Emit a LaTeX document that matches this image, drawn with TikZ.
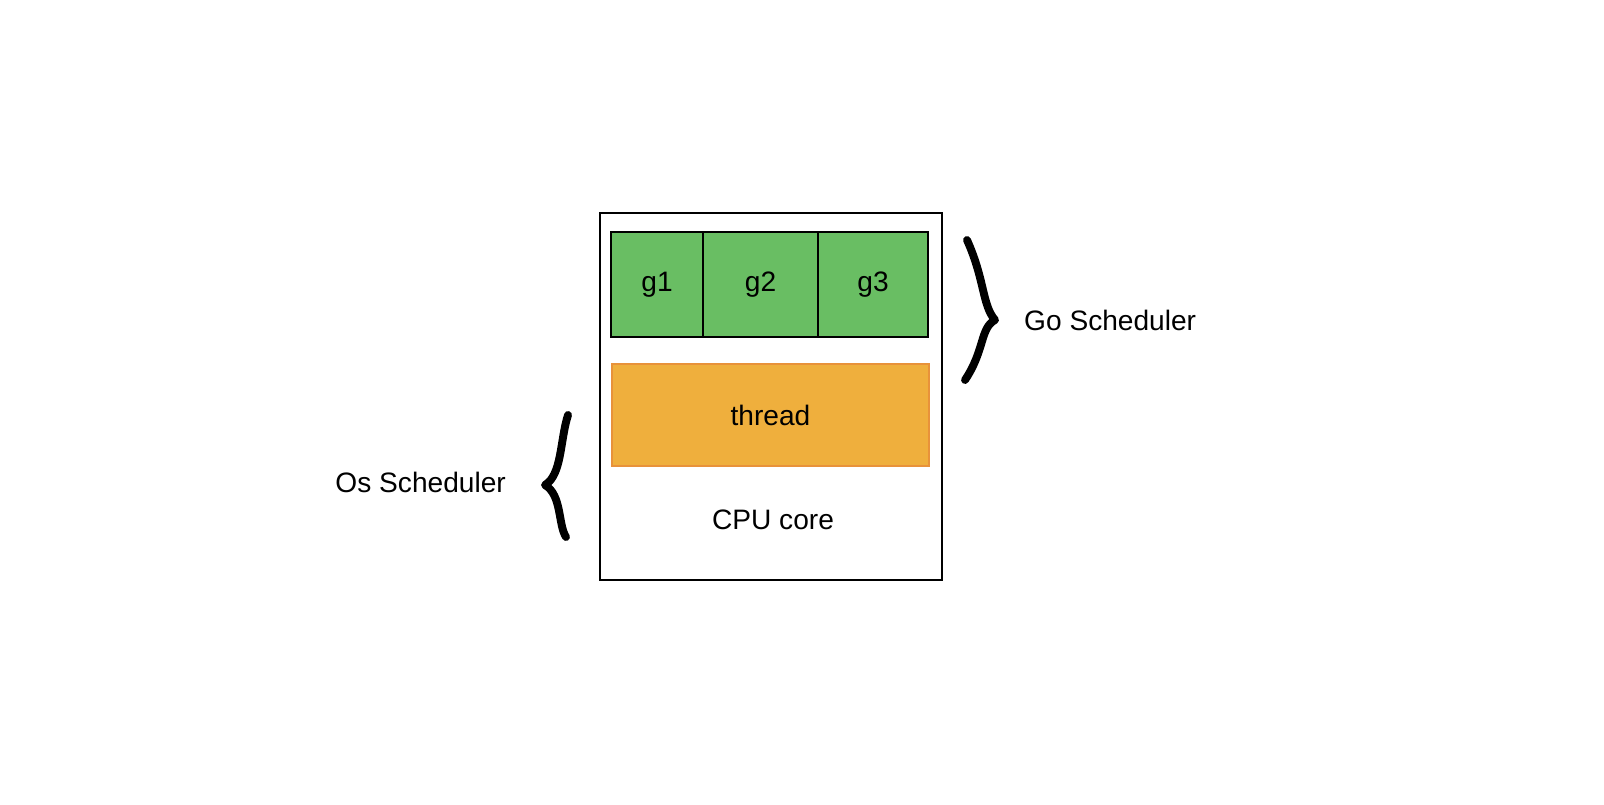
\documentclass[tikz,border=0pt]{standalone}
\usepackage{fontspec}
\setmainfont{Liberation Sans}
\usepackage{xcolor}
\definecolor{gfill}{HTML}{69BE63}
\definecolor{tfill}{HTML}{EFAF3D}
\definecolor{tline}{HTML}{E8923A}

\begin{document}
\begin{tikzpicture}[x=0.02cm,y=-0.02cm]
\tikzset{
    lbl/.style={font=\fontsize{16}{19}\selectfont},
    gcell/.style={draw=black,line width=1pt,fill=gfill,minimum height=2.1cm,inner sep=0pt,lbl},
    brace/.style={line width=4.5pt,line cap=round,line join=round}
}
\useasboundingbox (0,0) rectangle (1604,804);

\node[draw,line width=1.1pt,minimum width=6.84cm,minimum height=7.34cm] (core) at (771,396.5){};

\node[gcell,minimum width=1.84cm] (g1) at (657,284.5){g1};
\node[gcell,minimum width=2.3cm]  (g2) at (760.5,284.5){g2};
\node[gcell,minimum width=2.2cm]  (g3) at (873,284.5){g3};

\node[draw=tline,line width=1.2pt,fill=tfill,minimum width=6.34cm,minimum height=2.04cm,lbl] (thread) at (770.5,415){thread};

\node[lbl] (cpu) at (773,520){CPU core};

% go scheduler brace
\coordinate (gtop) at (967,240);
\coordinate (gtip) at (995,320);
\coordinate (gbot) at (965,380);
\draw[brace] (gtop) .. controls (985,280) and (982,305) .. (gtip)
    .. controls (980,328) and (985,350) .. (gbot);
\node[lbl,anchor=west] (gosched) at (1018,320){Go Scheduler};

% os scheduler brace
\coordinate (otop) at (568,415);
\coordinate (otip) at (545,485);
\coordinate (obot) at (566,537);
\draw[brace] (otop) .. controls (560,440) and (562,475) .. (otip)
    .. controls (562,495) and (558,525) .. (obot);
\node[lbl,anchor=east] (ossched) at (512,482){Os Scheduler};

\end{tikzpicture}
\end{document}
